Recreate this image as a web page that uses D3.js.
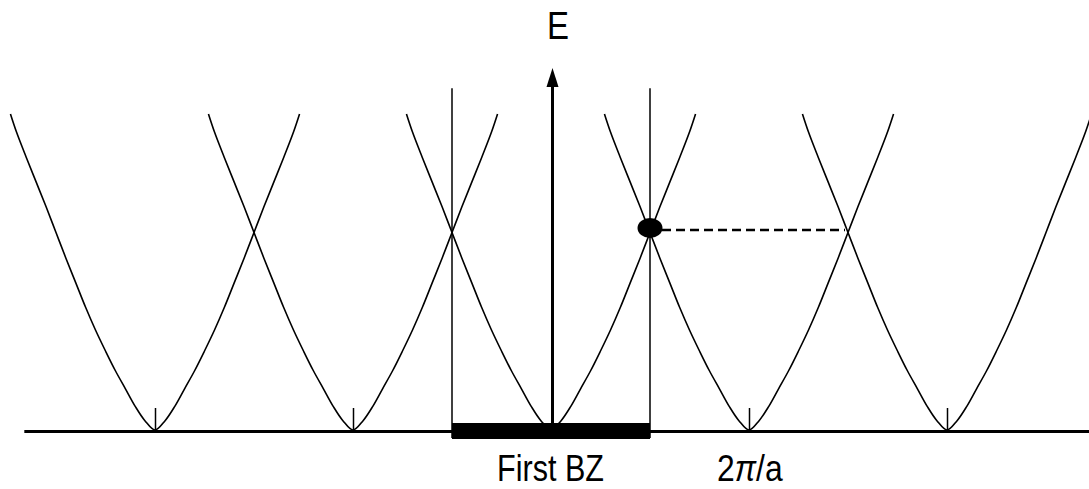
<!DOCTYPE html>
<html>
<head>
<meta charset="utf-8">
<script src="https://cdn.jsdelivr.net/npm/d3@7"></script>
<style>
  html, body { margin: 0; padding: 0; background: #fff; }
  svg { display: block; }
  text { font-family: "Liberation Sans", Arial, sans-serif; fill: #000; }
</style>
</head>
<body>
<svg id="chart" width="1089" height="489"></svg>
<script>
// ---- data (k in units of 2π/a, E in units of the zone-boundary crossing energy) ----
const bandCenters = [-2, -1, 0, 1, 2];              // reciprocal lattice points G
const kOffsets   = [0, 0.05, 0.1, 0.15, 0.2, 0.25, 0.3, 0.35, 0.4, 0.45, 0.5, 0.55, 0.6, 0.65, 0.7, 0.73];
const energies   = [0, 0.046, 0.12, 0.21, 0.3, 0.4, 0.505, 0.62, 0.745, 0.87, 1.0, 1.13, 1.255, 1.38, 1.51, 1.6];
const tickKs     = [-2, -1, 1, 2];
const zoneEdges  = [-0.5, 0.5];
const markedState = { k: 0.5, E: 1.023 };
const dashedLevel = { k0: 0.5, k1: 1.5, E: 1.013 };
const axisLabel  = "E";
const zoneLabel  = "First BZ";
const gLabel     = ["2", "π", "/a"];

// ---- scales ----
const x = d3.scaleLinear().domain([0, 1]).range([551, 749]);
const y = d3.scaleLinear().domain([0, 1.6]).range([430, 114]);

const svg = d3.select("#chart");

// baseline (k axis)
svg.append("line")
  .attr("x1", x(-2.66)).attr("x2", 1089)
  .attr("y1", y(0) + 1.5).attr("y2", y(0) + 1.5)
  .attr("stroke", "#000").attr("stroke-width", 3);

// tick marks at G points via d3 axis
const ax = d3.axisTop(x).tickValues(tickKs).tickSize(23).tickFormat("");
const axG = svg.append("g").attr("transform", `translate(0,${y(0) + 1})`).call(ax);
axG.select(".domain").remove();
axG.selectAll(".tick line").attr("stroke", "#000").attr("stroke-width", 1.5);

// First BZ bar
svg.append("rect")
  .attr("x", x(zoneEdges[0])).attr("width", x(zoneEdges[1]) - x(zoneEdges[0]))
  .attr("y", y(0) - 7).attr("height", 16)
  .attr("fill", "#000");

// zone boundary lines
svg.selectAll("line.zb").data(zoneEdges).join("line")
  .attr("class", "zb")
  .attr("x1", d => x(d)).attr("x2", d => x(d))
  .attr("y1", y(1.73)).attr("y2", y(0) + 8)
  .attr("stroke", "#000").attr("stroke-width", 1.5);

// bands
const line = d3.line().x(d => x(d[0])).y(d => y(d[1])).curve(d3.curveCatmullRom);
bandCenters.forEach(c => {
  const pts = [];
  for (let i = kOffsets.length - 1; i > 0; i--) pts.push([c - kOffsets[i], energies[i]]);
  for (let i = 0; i < kOffsets.length; i++) pts.push([c + kOffsets[i], energies[i]]);
  svg.append("path").attr("d", line(pts))
    .attr("fill", "none").attr("stroke", "#000").attr("stroke-width", 1.6);
});

// energy axis arrow
const ax0 = x(0) + 1.5, tipY = y(1.833);
svg.append("line")
  .attr("x1", ax0).attr("x2", ax0)
  .attr("y1", y(0)).attr("y2", tipY + 14)
  .attr("stroke", "#000").attr("stroke-width", 3);
svg.append("path")
  .attr("d", `M${ax0 - 6},${tipY + 19} L${ax0},${tipY} L${ax0 + 6},${tipY + 19} Z`)
  .attr("fill", "#000");

// dashed level
svg.append("line")
  .attr("x1", x(dashedLevel.k0) + 12).attr("x2", x(dashedLevel.k1) - 3)
  .attr("y1", y(dashedLevel.E)).attr("y2", y(dashedLevel.E))
  .attr("stroke", "#000").attr("stroke-width", 2.6).attr("stroke-dasharray", "9,5");

// marked state dot
svg.append("ellipse")
  .attr("cx", x(markedState.k)).attr("cy", y(markedState.E))
  .attr("rx", 12.5).attr("ry", 10).attr("fill", "#000");

// labels with horizontal fit
function fitText(sel, targetW, x0, baseY) {
  const w = sel.node().getBBox().width;
  sel.attr("transform", `translate(${x0},${baseY}) scale(${targetW / w},1)`);
}
const tE = svg.append("text").attr("font-size", 39).text(axisLabel);
fitText(tE, 22, 547, 39);
const tZ = svg.append("text").attr("font-size", 37).text(zoneLabel);
fitText(tZ, 107, 497, 481);
const tG = svg.append("text").attr("font-size", 37);
tG.append("tspan").text(gLabel[0]);
tG.append("tspan").attr("font-style", "italic").text(gLabel[1]);
tG.append("tspan").text(gLabel[2]);
fitText(tG, 66, 717, 481);
</script>
</body>
</html>
